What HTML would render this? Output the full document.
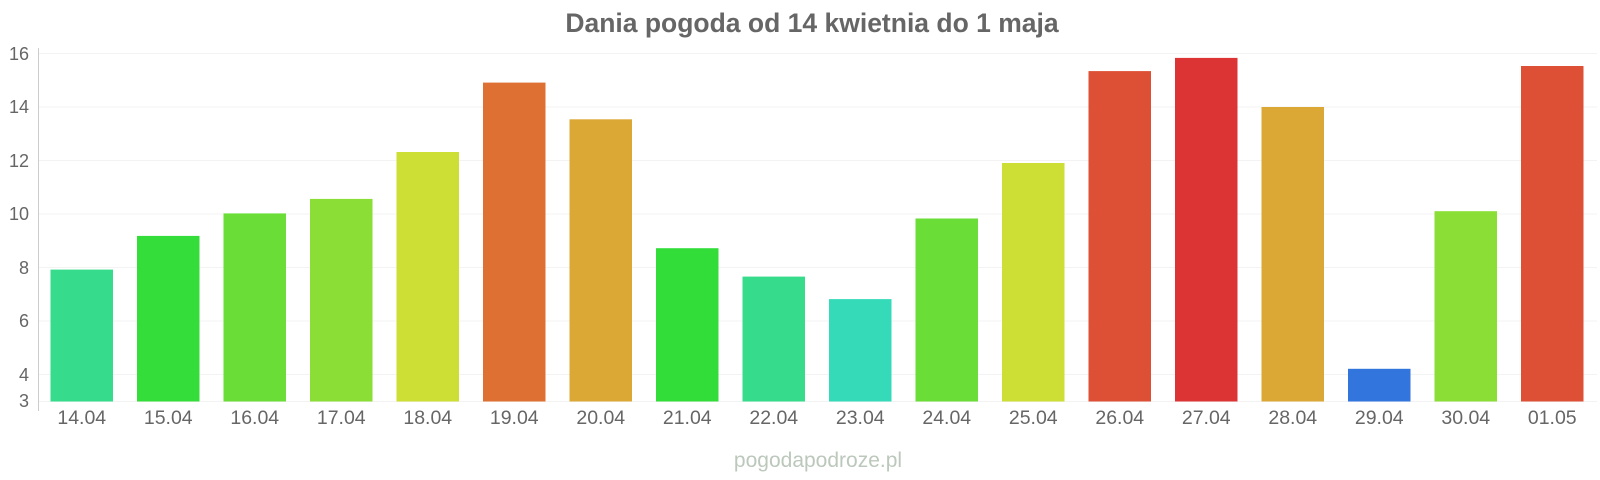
<!DOCTYPE html>
<html><head><meta charset="utf-8"><style>
html,body{margin:0;padding:0;background:#fff}
svg{display:block}
text{font-family:"Liberation Sans",Arial,sans-serif}
</style></head><body>
<svg width="1600" height="480" xmlns="http://www.w3.org/2000/svg">
<text x="812" y="32" text-anchor="middle" font-size="26.5" font-weight="bold" fill="#666">Dania pogoda od 14 kwietnia do 1 maja</text>
<g stroke="#f3f3f3" stroke-width="1">
<line x1="38" x2="1597" y1="53.5" y2="53.5"/>
<line x1="38" x2="1597" y1="107" y2="107"/>
<line x1="38" x2="1597" y1="160.5" y2="160.5"/>
<line x1="38" x2="1597" y1="214" y2="214"/>
<line x1="38" x2="1597" y1="267.5" y2="267.5"/>
<line x1="38" x2="1597" y1="321" y2="321"/>
<line x1="38" x2="1597" y1="374.5" y2="374.5"/>
<line x1="38" x2="1597" y1="401.5" y2="401.5"/>
</g>
<line x1="38.5" x2="38.5" y1="48" y2="411" stroke="#ccc"/>
<g font-size="18" fill="#666" text-anchor="end">
<text x="29" y="60">16</text>
<text x="29" y="113">14</text>
<text x="29" y="167">12</text>
<text x="29" y="220">10</text>
<text x="29" y="274">8</text>
<text x="29" y="327">6</text>
<text x="29" y="381">4</text>
<text x="29" y="407">3</text>
</g>
<g>
<rect x="50.5" y="269.6" width="62.5" height="131.9" fill="#36dc8c"/>
<rect x="137" y="235.9" width="62.5" height="165.6" fill="#35dd3a"/>
<rect x="223.5" y="213.4" width="62.5" height="188.1" fill="#6ade36"/>
<rect x="310" y="198.9" width="62.5" height="202.6" fill="#8ade36"/>
<rect x="396.5" y="152" width="62.5" height="249.5" fill="#cdde34"/>
<rect x="483" y="82.6" width="62.5" height="318.9" fill="#de7033"/>
<rect x="569.5" y="119.3" width="62.5" height="282.2" fill="#dca835"/>
<rect x="656" y="248.2" width="62.5" height="153.3" fill="#32dd3a"/>
<rect x="742.5" y="276.6" width="62.5" height="124.9" fill="#36dc8c"/>
<rect x="829" y="299.1" width="62.5" height="102.4" fill="#35dab8"/>
<rect x="915.5" y="218.5" width="62.5" height="183" fill="#6ade36"/>
<rect x="1002" y="163" width="62.5" height="238.5" fill="#cdde34"/>
<rect x="1088.5" y="71.1" width="62.5" height="330.4" fill="#dd5035"/>
<rect x="1175" y="57.9" width="62.5" height="343.6" fill="#dc3435"/>
<rect x="1261.5" y="107" width="62.5" height="294.5" fill="#dca835"/>
<rect x="1348" y="368.8" width="62.5" height="32.7" fill="#3275dc"/>
<rect x="1434.5" y="211.2" width="62.5" height="190.3" fill="#8ade36"/>
<rect x="1521" y="66" width="62.5" height="335.5" fill="#dd5035"/>
</g>
<g font-size="19.5" fill="#666" text-anchor="middle">
<text x="81.75" y="424">14.04</text>
<text x="168.25" y="424">15.04</text>
<text x="254.75" y="424">16.04</text>
<text x="341.25" y="424">17.04</text>
<text x="427.75" y="424">18.04</text>
<text x="514.25" y="424">19.04</text>
<text x="600.75" y="424">20.04</text>
<text x="687.25" y="424">21.04</text>
<text x="773.75" y="424">22.04</text>
<text x="860.25" y="424">23.04</text>
<text x="946.75" y="424">24.04</text>
<text x="1033.25" y="424">25.04</text>
<text x="1119.75" y="424">26.04</text>
<text x="1206.25" y="424">27.04</text>
<text x="1292.75" y="424">28.04</text>
<text x="1379.25" y="424">29.04</text>
<text x="1465.75" y="424">30.04</text>
<text x="1552.25" y="424">01.05</text>
</g>
<text x="818" y="467" text-anchor="middle" font-size="21" fill="#bcc8bc">pogodapodroze.pl</text>
</svg>
</body></html>
